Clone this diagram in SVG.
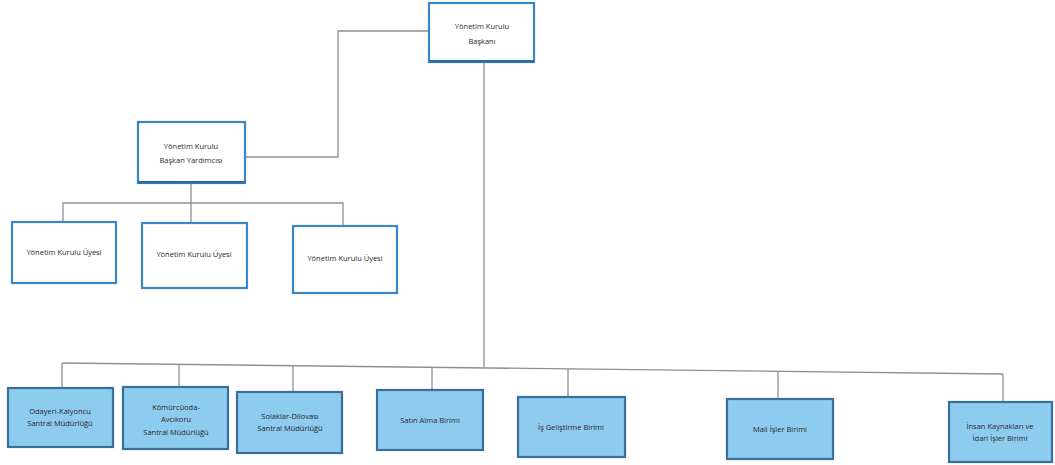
<svg xmlns="http://www.w3.org/2000/svg" width="1055" height="465" viewBox="0 0 1055 465">
<style>
.w{fill:#ffffff;stroke:#3b86c8;stroke-width:2.2}
.b{fill:#8dcbef;stroke:#3a6f9c;stroke-width:2.2}
.sh{fill:#2f6a9e}
.c{fill:none;stroke:#8a9096;stroke-width:1.3}
text{font-family:"Open Sans","Liberation Sans",sans-serif;font-size:7.5px;fill:#2a2a2a;text-anchor:middle}
</style>
<rect width="1055" height="465" fill="#ffffff"/>
<g id="connectors">
<polyline class="c" points="429,31 338,31 338,157 245,157"/>
<line class="c" x1="484" y1="62" x2="484" y2="367"/>
<polyline class="c" points="191,183 191,203"/>
<polyline class="c" points="63,222 63,203 343,203 343,226"/>
<line class="c" x1="191" y1="203" x2="191" y2="223"/>
<polyline class="c" points="62,363 1003,374"/>
<line class="c" x1="62" y1="363" x2="62" y2="388"/>
<line class="c" x1="179" y1="364.4" x2="179" y2="387"/>
<line class="c" x1="293" y1="365.7" x2="293" y2="392"/>
<line class="c" x1="432" y1="367.3" x2="432" y2="390"/>
<line class="c" x1="568" y1="369" x2="568" y2="397"/>
<line class="c" x1="778" y1="371.4" x2="778" y2="399"/>
<line class="c" x1="1003" y1="374" x2="1003" y2="402"/>
</g>
<g id="n-baskan">
<rect class="w" x="429" y="3" width="105" height="59"/>
<rect class="sh" x="429" y="60" width="105" height="2.5"/>
<text x="482" y="29">Yönetim Kurulu</text>
<text x="482" y="44">Başkanı</text>
</g>
<g id="n-vp">
<rect class="w" x="138" y="122" width="107" height="61"/>
<rect class="sh" x="138" y="181" width="107" height="2.5"/>
<text x="191" y="149">Yönetim Kurulu</text>
<text x="191" y="163">Başkan Yardımcısı</text>
</g>
<g id="n-uye1">
<rect class="w" x="12" y="222" width="104" height="61"/>
<text x="64" y="255">Yönetim Kurulu Üyesi</text>
</g>
<g id="n-uye2">
<rect class="w" x="142" y="223" width="105" height="65"/>
<text x="194" y="257">Yönetim Kurulu Üyesi</text>
</g>
<g id="n-uye3">
<rect class="w" x="293" y="226" width="104" height="67"/>
<text x="345" y="261">Yönetim Kurulu Üyesi</text>
</g>
<g id="n-odayeri">
<rect class="b" x="8" y="388" width="105" height="59"/>
<text x="60" y="414">Odayeri-Kalyoncu</text>
<text x="60" y="426">Santral Müdürlüğü</text>
</g>
<g id="n-komurcuoda">
<rect class="b" x="123" y="387" width="105" height="62"/>
<text x="176" y="410">Kömürcüoda-</text>
<text x="176" y="422">Avcıkoru</text>
<text x="176" y="435">Santral Müdürlüğü</text>
</g>
<g id="n-solaklar">
<rect class="b" x="237" y="392" width="105" height="61"/>
<text x="290" y="419">Solaklar-Dilovası</text>
<text x="290" y="431">Santral Müdürlüğü</text>
</g>
<g id="n-satin">
<rect class="b" x="377" y="390" width="106" height="60"/>
<text x="430" y="423">Satın Alma Birimi</text>
</g>
<g id="n-is">
<rect class="b" x="518" y="397" width="107" height="60"/>
<text x="571" y="430">İş Geliştirme Birimi</text>
</g>
<g id="n-mali">
<rect class="b" x="727" y="399" width="106" height="60"/>
<text x="780" y="432">Mali İşler Birimi</text>
</g>
<g id="n-insan">
<rect class="b" x="949" y="402" width="103" height="60"/>
<text x="1000" y="429">İnsan Kaynakları ve</text>
<text x="1000" y="441">İdari İşler Birimi</text>
</g>
</svg>
